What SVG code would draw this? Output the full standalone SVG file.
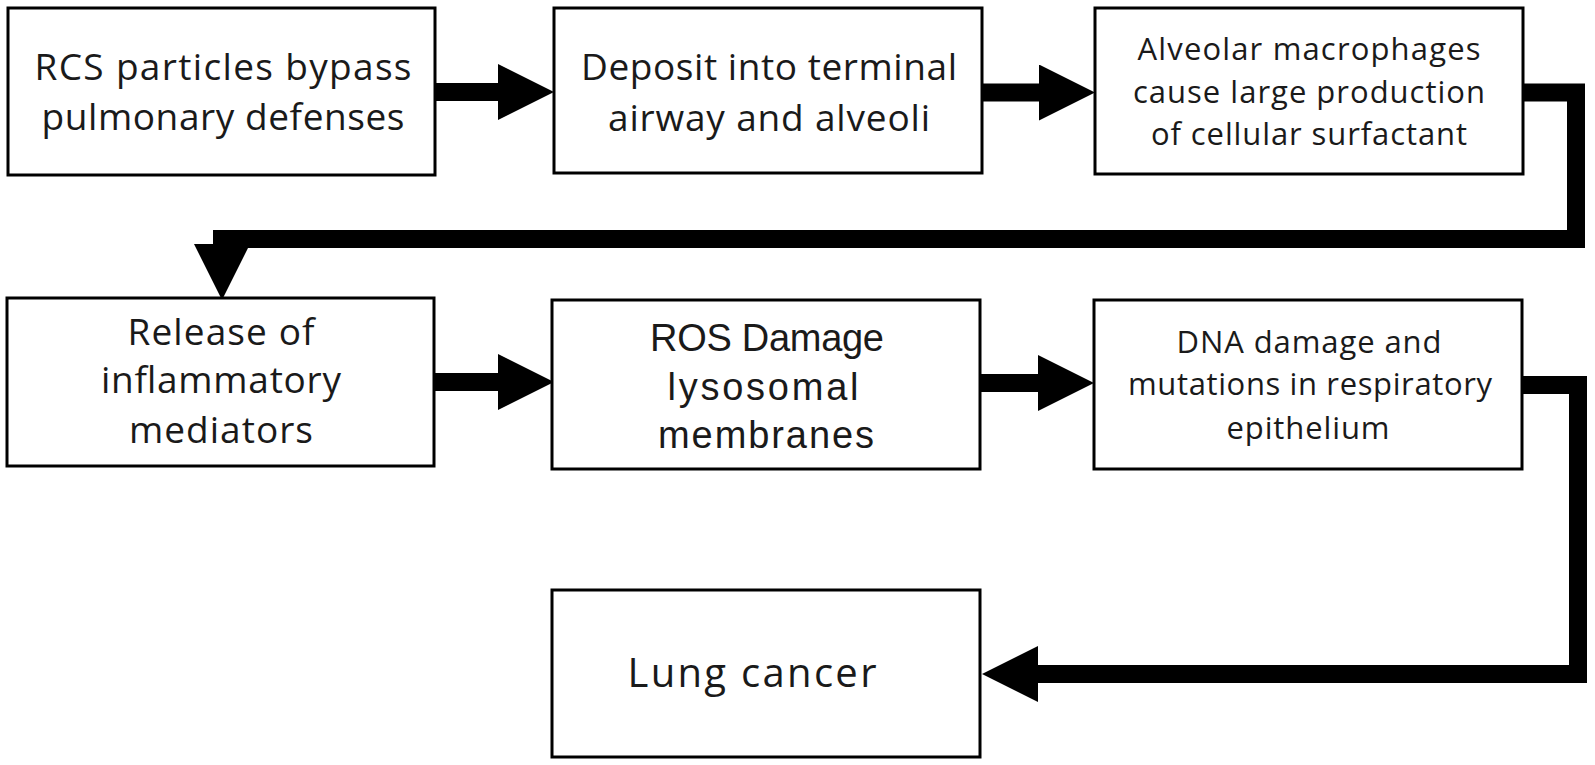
<svg xmlns="http://www.w3.org/2000/svg" width="1595" height="765" viewBox="0 0 1595 765">
<style>
.box{fill:#fff;stroke:#000;stroke-width:3}
.t{font-family:"Open Sans","Noto Sans",sans-serif;fill:#1a1a1a;text-anchor:middle}
.big{font-size:37px}
.sm{font-size:31px}
.nar{font-family:"Liberation Sans",Arial,sans-serif;font-size:38px}
.c{fill:none;stroke:#000;stroke-width:18;stroke-linejoin:miter;stroke-linecap:butt}
</style>
<defs>
<marker id="ah" markerUnits="userSpaceOnUse" viewBox="0 0 56 56" markerWidth="56" markerHeight="56" refX="2" refY="28" orient="auto">
<path d="M0,0 L56,28 L0,56 Z" fill="#000"/>
</marker>
</defs>
<rect width="1595" height="765" fill="#fff"/>
<g id="connectors">
<path class="c" d="M435,92 H500" marker-end="url(#ah)"/>
<path class="c" d="M982,92.5 H1041" marker-end="url(#ah)"/>
<path class="c" d="M1523,92.5 H1576 V239 H222 V246" marker-end="url(#ah)"/>
<path class="c" d="M434,382 H500" marker-end="url(#ah)"/>
<path class="c" d="M980,383 H1040" marker-end="url(#ah)"/>
<path class="c" d="M1522,385 H1578 V674 H1036" marker-end="url(#ah)"/>
</g>
<g id="n1">
<rect class="box" x="8" y="8" width="427" height="167"/>
<text class="t big" x="223" y="80" textLength="377">RCS particles bypass</text>
<text class="t big" x="223" y="130" textLength="363">pulmonary defenses</text>
</g>
<g id="n2">
<rect class="box" x="554" y="8" width="428" height="165"/>
<text class="t big" x="769" y="80" textLength="376">Deposit into terminal</text>
<text class="t big" x="769" y="131" textLength="322">airway and alveoli</text>
</g>
<g id="n3">
<rect class="box" x="1095" y="8" width="428" height="166"/>
<text class="t sm" x="1309" y="60" textLength="343">Alveolar macrophages</text>
<text class="t sm" x="1309" y="103" textLength="352">cause large production</text>
<text class="t sm" x="1309" y="145" textLength="316">of cellular surfactant</text>
</g>
<g id="n4">
<rect class="box" x="7" y="298" width="427" height="168"/>
<text class="t big" x="221" y="345" textLength="187">Release of</text>
<text class="t big" x="221" y="393" textLength="240">inflammatory</text>
<text class="t big" x="221" y="443" textLength="184">mediators</text>
</g>
<g id="n5">
<rect class="box" x="552" y="300" width="428" height="169"/>
<text class="t nar" x="767" y="351" textLength="234">ROS Damage</text>
<text class="t nar" x="763" y="400" textLength="191">lysosomal</text>
<text class="t nar" x="766" y="448" textLength="216">membranes</text>
</g>
<g id="n6">
<rect class="box" x="1094" y="300" width="428" height="169"/>
<text class="t sm" x="1309" y="353" textLength="265">DNA damage and</text>
<text class="t sm" x="1310" y="395" textLength="364">mutations in respiratory</text>
<text class="t sm" x="1308" y="439" textLength="163">epithelium</text>
</g>
<g id="n7">
<rect class="box" x="552" y="590" width="428" height="167"/>
<text class="t" x="752" y="687" font-size="40" textLength="249">Lung cancer</text>
</g>
</svg>
